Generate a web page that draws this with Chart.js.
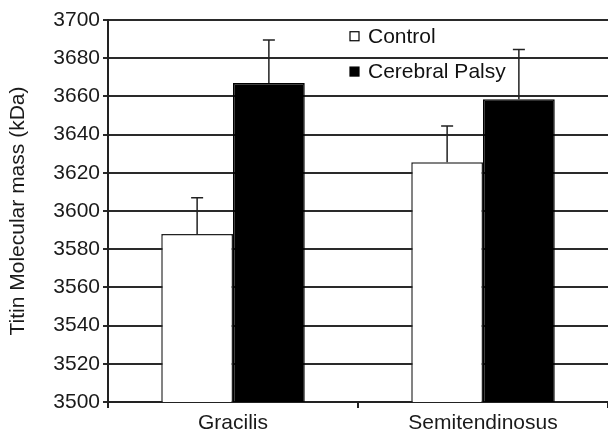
<!DOCTYPE html>
<html>
<head>
<meta charset="utf-8">
<script src="https://cdn.jsdelivr.net/npm/chart.js@4/dist/chart.umd.min.js"></script>
<style>
  html, body { margin: 0; padding: 0; background: #fff; }
  #wrap { width: 608px; height: 434px; }
</style>
</head>
<body>
<div id="wrap"><canvas id="c"></canvas></div>
<script>
// titin mass, control vs cerebral palsy
const categories = ["Gracilis", "Semitendinosus"];
const seriesNames = ["Control", "Cerebral Palsy"];
const controlMeans = [3588, 3625.5];
const controlErr = [19, 19];
const palsyMeans = [3667, 3658.5];
const palsyErr = [22.5, 26];
const yTicks = [3500, 3700, 20];

const FONT = "'Liberation Sans', Arial, sans-serif";

// upper-only error bars with caps
const errorBars = {
  id: "errorBars",
  afterDatasetsDraw(chart) {
    const ctx = chart.ctx;
    const y = chart.scales.y;
    ctx.save();
    ctx.strokeStyle = "#222";
    ctx.lineWidth = 1.5;
    chart.data.datasets.forEach((ds, i) => {
      const meta = chart.getDatasetMeta(i);
      meta.data.forEach((bar, j) => {
        const top = y.getPixelForValue(ds.data[j] + ds.errors[j]);
        ctx.beginPath();
        ctx.moveTo(bar.x, bar.y);
        ctx.lineTo(bar.x, top);
        ctx.moveTo(bar.x - 6, top);
        ctx.lineTo(bar.x + 6, top);
        ctx.stroke();
      });
    });
    ctx.restore();
  },
};

// legend sits inside the plot, near the top middle
const innerLegend = {
  id: "innerLegend",
  afterDraw(chart) {
    const ctx = chart.ctx;
    const y = chart.scales.y;
    const x0 = 350;
    const rows = [y.getPixelForValue(3691.5), y.getPixelForValue(3673)];
    ctx.save();
    ctx.font = "21px " + FONT;
    ctx.textBaseline = "middle";
    chart.data.datasets.forEach((ds, i) => {
      const cy = rows[i];
      ctx.fillStyle = ds.backgroundColor;
      ctx.fillRect(x0, cy - 4.5, 9, 9);
      ctx.strokeStyle = "#000";
      ctx.lineWidth = 1.2;
      ctx.strokeRect(x0, cy - 4.5, 9, 9);
      ctx.fillStyle = "#111";
      ctx.fillText(ds.label, x0 + 18, cy + 1);
    });
    ctx.restore();
  },
};

new Chart(document.getElementById("c"), {
  type: "bar",
  data: {
    labels: categories,
    datasets: [
      {
        label: seriesNames[0],
        data: controlMeans,
        errors: controlErr,
        backgroundColor: "#ffffff",
        borderColor: "#222",
        borderWidth: 1.5,
      },
      {
        label: seriesNames[1],
        data: palsyMeans,
        errors: palsyErr,
        backgroundColor: "#000000",
        borderColor: "#000",
        borderWidth: 1.5,
      },
    ],
  },
  options: {
    responsive: true,
    maintainAspectRatio: false,
    animation: false,
    layout: { padding: { top: 20, right: 0, left: 0, bottom: 0 } },
    categoryPercentage: 0.574,
    barPercentage: 1,
    plugins: {
      legend: { display: false },
      tooltip: { enabled: false },
    },
    scales: {
      x: {
        grid: { drawOnChartArea: false, color: "#222", lineWidth: 2, tickLength: 6 },
        border: { color: "#222", width: 2 },
        ticks: { color: "#1a1a1a", font: { family: FONT, size: 21 }, padding: 3 },
        afterFit: (s) => { s.height = 32; },
      },
      y: {
        min: yTicks[0],
        max: yTicks[1],
        grid: { color: "#2a2a2a", lineWidth: 2, tickLength: 5 },
        border: { color: "#222", width: 2 },
        ticks: {
          stepSize: yTicks[2],
          color: "#1a1a1a",
          padding: 3,
          font: { family: FONT, size: 21 },
          callback: (v) => String(v),
        },
        title: {
          display: true,
          text: "Titin Molecular mass (kDa)",
          color: "#1a1a1a",
          font: { family: FONT, size: 21 },
          padding: { top: 6, bottom: 0 },
        },
        afterFit: (s) => { s.width = 108; },
      },
    },
  },
  plugins: [errorBars, innerLegend],
});
</script>
</body>
</html>
